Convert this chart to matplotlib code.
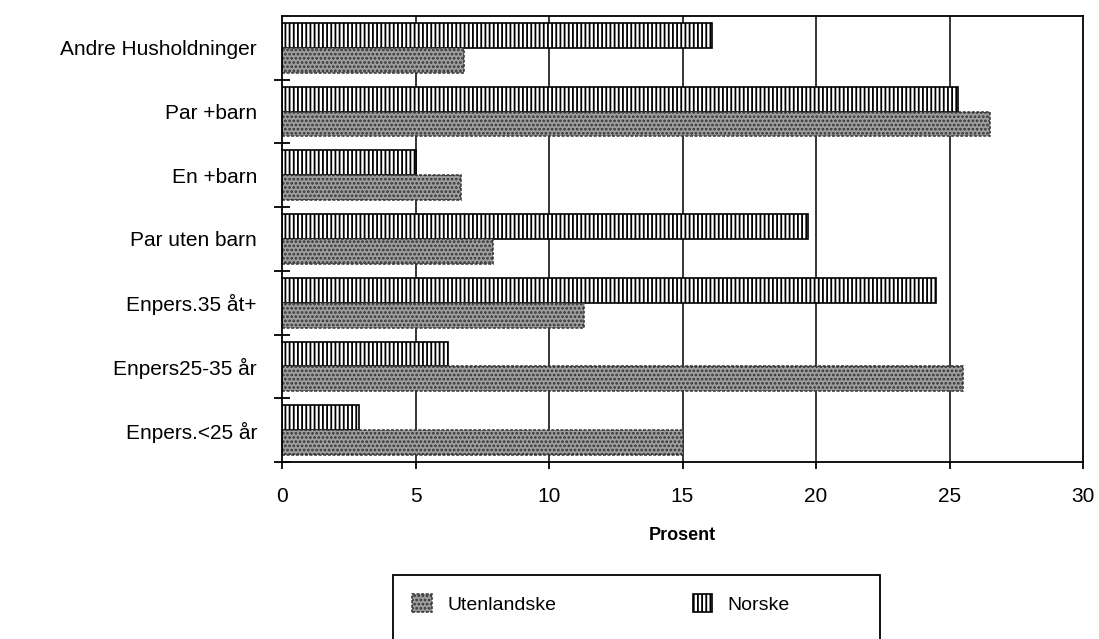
import matplotlib
matplotlib.use("Agg")
import matplotlib.pyplot as plt
import numpy as np
from matplotlib.patches import Rectangle

plt.rcParams["font.family"] = ["Liberation Sans", "DejaVu Sans"]
plt.rcParams["hatch.linewidth"] = 1.3

# kategorier ovenfra og ned
kategorier = ["Andre Husholdninger", "Par +barn", "En +barn", "Par uten barn",
              "Enpers.35 åt+", "Enpers25-35 år", "Enpers.<25 år"]
norske = [16.1, 25.3, 5.0, 19.7, 24.5, 6.2, 2.9]
utenlandske = [6.8, 26.5, 6.7, 7.9, 11.3, 25.5, 15.0]
xticks = [0, 5, 10, 15, 20, 25, 30]

n = len(kategorier)
pos = np.arange(n)[::-1]
h = 0.39

fig = plt.figure(figsize=(10.99, 6.39), dpi=100)
ax = fig.add_axes([282 / 1099, 1 - 462 / 639, (1083 - 282) / 1099, (462 - 16) / 639])

# rutenett bak
for x in xticks[1:-1]:
    ax.axvline(x, color="black", lw=1.1, zorder=0)

ax.barh(pos + h / 2, norske, height=h, color="white", edgecolor="black",
        hatch="||||", lw=1.2, zorder=2, label="Norske")
ax.barh(pos - h / 2, utenlandske, height=h, color="#9e9e9e", edgecolor="#333333",
        hatch="....", lw=1.1, ls=(0, (2, 1)), zorder=2, label="Utenlandske")

ax.set_xlim(0, 30)
ax.set_ylim(-0.5, n - 0.5)
ax.set_xticks(xticks)
ax.set_xticklabels([str(v) for v in xticks], fontsize=15)
ax.tick_params(axis="x", direction="out", length=5, width=1.3, pad=13)
ax.set_yticks(pos)
ax.set_yticklabels(kategorier, fontsize=15)
ax.tick_params(axis="y", which="major", length=0, pad=18)
ax.set_yticks(np.arange(-0.5, n - 1), minor=True)
ax.tick_params(axis="y", which="minor", direction="inout", length=11, width=1.3)
for s in ax.spines.values():
    s.set_linewidth(1.3)
ax.set_xlabel("Prosent", fontsize=13, fontweight="bold", labelpad=15)

# forklaring
handles, labels = ax.get_legend_handles_labels()
leg = fig.legend(handles[::-1], labels[::-1], ncol=2, loc="upper left",
                 bbox_to_anchor=(393 / 1099, 1 - 575 / 639), borderaxespad=0,
                 borderpad=1.0, frameon=False, fontsize=14, handlelength=1.0,
                 handleheight=1.0, handletextpad=0.8, columnspacing=7.0)
fig.add_artist(Rectangle((393 / 1099, -0.02), (880 - 393) / 1099, 1 - 575 / 639 + 0.02,
                         transform=fig.transFigure, fill=False, lw=1.3, ec="black"))

fig.savefig("out.png", dpi=100)
